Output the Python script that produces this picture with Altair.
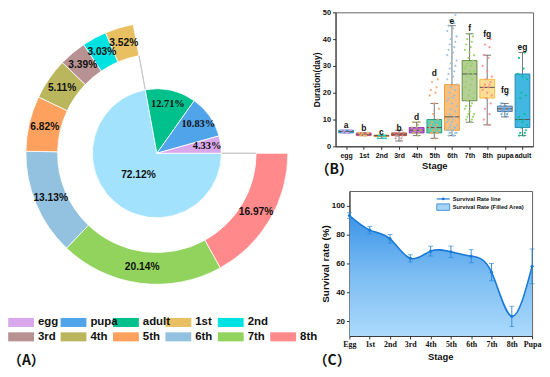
import math
import altair as alt
import pandas as pd

# ---------------- Panel A data ----------------
inner_stages = ["larva", "adult", "pupa", "egg"]
inner_pct = [72.12, 12.71, 10.83, 4.33]
ring_stages = ["8th", "7th", "6th", "5th", "4th", "3rd", "2nd", "1st"]
ring_pct = [16.97, 20.14, 13.13, 6.82, 5.11, 3.39, 3.03, 3.52]
legend_labels = ["egg", "pupa", "adult", "1st", "2nd", "3rd", "4th", "5th", "6th", "7th", "8th"]
legend_colors = ["#d9a8ec", "#50a4ea", "#00c08b", "#e8c062", "#00e1e1", "#b89292",
                 "#b9b65e", "#ffa15e", "#93c1e0", "#92d35e", "#ff898b"]
larva_color = "#a3e2fd"

# ---------------- Panel B data ----------------
box_stages = ["egg", "1st", "2nd", "3rd", "4th", "5th", "6th", "7th", "8th", "pupa", "adult"]
box_min = [5, 4, 3, 2, 4, 3, 4, 9, 8, 11, 4]
box_q1 = [5, 4, 3.7, 4, 5, 5, 6, 17, 18, 13, 7]
box_med = [5.5, 4.5, 4, 4.5, 6, 7, 11, 27, 22, 14, 10]
box_q3 = [6, 5, 4.2, 5, 7, 10, 23, 32, 25, 15, 27]
box_max = [6, 5, 4, 6, 9, 16, 45, 42, 34, 16, 35]
sig_letters = ["a", "b", "c", "b", "d", "d", "e", "f", "fg", "fg", "eg"]
sig_y = [7.9, 6.7, 5.2, 6.7, 11, 27.5, 46.7, 44, 42, 21, 37]
box_fill_colors = ["#45b9e0", "#f28ab5", "#f8a640", "#f27b5c", "#c55fe0", "#5fcfb0",
                   "#f9bf7f", "#b6cf97", "#fddf93", "#9fb7d2", "#41b7e2"]
box_dark_colors = ["#1e88b8", "#c2306e", "#e07a00", "#c42a14", "#7e1fa8", "#108a6a",
                   "#f08a10", "#4f7a2a", "#f4b21c", "#3f6488", "#1a7aa8"]

pts_egg = [5, 5, 5, 5.5, 6, 6, 6, 5, 6]
pts_1st = [4, 4, 4, 4.5, 5, 5, 5, 4, 5]
pts_2nd = [3, 3, 4, 4, 4, 4, 3]
pts_3rd = [2, 3, 3, 4, 4, 4, 5, 5, 5, 6, 4]
pts_4th = [4, 5, 5, 5, 6, 6, 6, 7, 7, 8, 9, 9, 6]
pts_5th = [3, 5, 5, 5, 5, 6, 6, 6, 7, 7, 8, 8, 9, 10, 12, 14, 16, 19, 20, 21, 22, 24, 25]
pts_6th = [4, 4, 4, 5, 5, 5, 5, 6, 6, 6, 6, 7, 7, 7, 8, 8, 9, 9, 10, 10, 11, 12, 13, 14,
           15, 16, 17, 18, 18, 19, 20, 21, 22, 23, 24, 25, 26, 27, 28, 29, 30, 31, 32, 33,
           34, 35, 36, 37, 38, 39, 40, 41, 42, 43, 44, 45, 46, 47, 49]
pts_7th = [9, 10, 10, 11, 11, 12, 12, 13, 14, 15, 15, 16, 17, 18, 19, 20, 21, 22, 23, 24,
           25, 26, 27, 27, 28, 28, 29, 30, 30, 31, 31, 32, 33, 34, 35, 36, 37, 38, 39, 40, 41, 42]
pts_8th = [8, 10, 12, 14, 16, 18, 19, 20, 21, 22, 22, 23, 23, 24, 25, 26, 28, 30, 33, 34, 37, 38, 40]
pts_pupa = [11, 12, 12, 13, 13, 14, 14, 14, 15, 15, 16, 19]
pts_adult = [4, 4, 5, 5, 6, 7, 8, 9, 10, 10, 11, 12, 18, 19, 20, 25, 26, 27, 29, 33, 35]
pts_all = [pts_egg, pts_1st, pts_2nd, pts_3rd, pts_4th, pts_5th, pts_6th, pts_7th,
           pts_8th, pts_pupa, pts_adult]

# ---------------- Panel C data ----------------
surv_stages = ["Egg", "1st", "2nd", "3rd", "4th", "5th", "6th", "7th", "8th", "Pupa"]
surv_rate = [93, 83, 77, 63.5, 68.5, 68, 65, 54, 23.5, 58]
surv_err = [2, 2.6, 3, 2.5, 3.4, 4, 4.5, 6, 7, 12]
C_YMIN, C_YMAX = 10, 110

FONT = "Liberation Sans"
CJK = "Noto Sans CJK SC"
one = pd.DataFrame({"k": [0]})

# ================= Panel A =================
W_A, H_A = 320, 360
CX, CY = 150, 142
theta_scale = alt.Scale(domain=[0, 100], range=[math.pi / 2, math.pi / 2 + 2 * math.pi])
color_scale = alt.Scale(domain=legend_labels + ["larva"], range=legend_colors + [larva_color])

inner_df = pd.DataFrame({"stage": inner_stages, "pct": inner_pct, "ord": list(range(len(inner_stages)))})
ring_df = pd.DataFrame({"stage": ring_stages, "pct": ring_pct, "ord": list(range(len(ring_stages)))})
lab = "format(datum.pct, '.2f') + '%'"


def arc_enc(df):
    return alt.Chart(df).transform_calculate(lab=lab).encode(
        theta=alt.Theta("pct:Q", stack=True, scale=theta_scale),
        order=alt.Order("ord:Q"),
        x=alt.value(CX), y=alt.value(CY),
    )


inner_arc = arc_enc(inner_df).mark_arc(outerRadius=65, stroke="white", strokeWidth=0.8).encode(
    color=alt.Color("stage:N", scale=color_scale, legend=None))
ring_arc = arc_enc(ring_df).mark_arc(innerRadius=100, outerRadius=132, stroke="white", strokeWidth=0.8).encode(
    color=alt.Color("stage:N", scale=color_scale, legend=None))
ring_txt = arc_enc(ring_df).mark_text(radius=116, fontSize=10.3, fontWeight="bold", font=FONT,
                                      color="#111").encode(detail="stage:N", text="lab:N")
inner_small = arc_enc(inner_df).transform_calculate(t2="datum.pct < 50 ? datum.lab : ''").mark_text(
    radius=51, fontSize=10.5, fontWeight="bold", font="Liberation Serif", color="#111").encode(
    detail="stage:N", text="t2:N")
inner_big = arc_enc(inner_df).transform_calculate(t2="datum.pct >= 50 ? datum.lab : ''").mark_text(
    radius=29, fontSize=10.3, fontWeight="bold", font=FONT, color="#111").encode(
    detail="stage:N", text="t2:N")

conn_df = pd.DataFrame({"t": [0, inner_pct[0]]})
conn = alt.Chart(conn_df).mark_arc(innerRadius=65, outerRadius=100, stroke="#c8c8c8",
                                   strokeWidth=1, fillOpacity=0).encode(
    theta=alt.Theta("t:Q", scale=theta_scale), theta2=alt.Theta2("t"),
    x=alt.value(CX), y=alt.value(CY))

leg_df = pd.DataFrame({
    "label": legend_labels,
    "row": [0 if i < 5 else 1 for i in range(len(legend_labels))],
    "col": [i if i < 5 else i - 5 for i in range(len(legend_labels))],
})
lx = alt.X("col:Q", scale=alt.Scale(domain=[-0.25, 5.81], nice=False, zero=False), axis=None)
ly = alt.Y("row:Q", scale=alt.Scale(domain=[-21.55, 3.28], nice=False, zero=False, reverse=True), axis=None)
leg_sw = alt.Chart(leg_df).mark_point(shape="M-1,-0.35H1V0.35H-1Z", size=676, filled=True,
                                      opacity=1, strokeWidth=0).encode(
    x=lx, y=ly, color=alt.Color("label:N", scale=color_scale, legend=None))
leg_tx = alt.Chart(leg_df).mark_text(align="left", baseline="middle", dx=17, fontSize=11.5,
                                     fontWeight="bold", font=FONT, color="#111").encode(
    x=lx, y=ly, text="label:N")
a_lab = alt.Chart(one).mark_text(align="left", baseline="middle", fontSize=14, fontWeight="bold",
                                 font=CJK, color="#111").encode(
    x=alt.value(0), y=alt.value(351), text=alt.value("（A）"))

A = alt.layer(conn, inner_arc, ring_arc, ring_txt, inner_small, inner_big, leg_sw, leg_tx, a_lab).properties(
    width=W_A, height=H_A)

# ================= Panel B =================
lab_expr = "[" + ",".join("'%s'" % s for s in box_stages) + "][datum.value]"
fill_scale = alt.Scale(domain=box_stages, range=box_fill_colors)
dark_scale = alt.Scale(domain=box_stages, range=box_dark_colors)


def xB(field):
    return alt.X(field, type="quantitative",
                 scale=alt.Scale(domain=[-0.6, len(box_stages) - 0.4], nice=False, zero=False),
                 axis=alt.Axis(values=list(range(len(box_stages))), labelExpr=lab_expr, title="Stage",
                               labelFontSize=7, titleFontSize=9.5, tickSize=3, labelPadding=2,
                               titleY=19.5, titleBaseline="middle", labelAngle=0, labelFlush=False))


def yB(field):
    return alt.Y(field, type="quantitative", scale=alt.Scale(domain=[0, 50], nice=False),
                 axis=alt.Axis(values=[0, 10, 20, 30, 40, 50], title="Duration(day)", labelFontSize=7.5,
                               titleFontSize=8.5, tickSize=3, labelPadding=2,
                               titleX=-19, titleBaseline="middle"))


box_df = pd.DataFrame({"stage": box_stages, "idx": list(range(len(box_stages))), "lo": box_min,
                       "q1": box_q1, "med": box_med, "q3": box_q3, "hi": box_max,
                       "letter": sig_letters, "ly": sig_y})
bb = alt.Chart(box_df).transform_calculate(
    xl="datum.idx - 0.42", xr="datum.idx + 0.42", cl="datum.idx - 0.22", cr="datum.idx + 0.22")
whisk = bb.mark_rule(color="#555", strokeWidth=0.8).encode(x=xB("idx"), y=yB("lo"), y2="hi")
cap_lo = bb.mark_rule(color="#555", strokeWidth=0.8).encode(x=xB("cl"), x2="cr", y=yB("lo"))
cap_hi = bb.mark_rule(color="#555", strokeWidth=0.8).encode(x=xB("cl"), x2="cr", y=yB("hi"))
boxes = bb.mark_rect(strokeWidth=0.8).encode(
    x=xB("xl"), x2="xr", y=yB("q1"), y2="q3",
    fill=alt.Fill("stage:N", scale=fill_scale, legend=None),
    stroke=alt.Stroke("stage:N", scale=dark_scale, legend=None))
med = bb.mark_rule(color="#555", strokeWidth=1).encode(x=xB("xl"), x2="xr", y=yB("med"))

pts_rows = []
for i, (s, vals) in enumerate(zip(box_stages, pts_all)):
    for v in vals:
        pts_rows.append({"stage": s, "idx": i, "val": v})
pts_df = pd.DataFrame(pts_rows)
pts = alt.Chart(pts_df).transform_window(rn="row_number()", groupby=["stage"]).transform_calculate(
    jx="datum.idx + ((datum.rn * 5) % 9 - 4) * 0.065").mark_circle(size=5, opacity=0.9).encode(
    x=xB("jx"), y=yB("val"), color=alt.Color("stage:N", scale=dark_scale, legend=None))
letters = bb.mark_text(fontSize=8.5, fontWeight="bold", font=FONT, color="#111",
                       baseline="middle").encode(x=xB("idx"), y=yB("ly"), text="letter:N")
b_lab = alt.Chart(one).mark_text(align="left", baseline="middle", fontSize=14, fontWeight="bold",
                                 font=CJK, color="#111").encode(
    x=alt.value(-20), y=alt.value(159), text=alt.value("（B）"))

B = alt.layer(whisk, cap_lo, cap_hi, boxes, med, pts, letters, b_lab).properties(
    width=199, height=135, view=alt.ViewBackground(stroke="#666", strokeWidth=1))

# ================= Panel C =================
c_df = pd.DataFrame({"stage": surv_stages, "rate": surv_rate, "err": surv_err})
cb = alt.Chart(c_df).transform_calculate(lo="datum.rate - datum.err", hi="datum.rate + datum.err")
xC = alt.X("stage:N", sort=surv_stages, scale=alt.Scale(type="point", padding=0),
           axis=alt.Axis(labelAngle=0, labelFont="Liberation Serif", labelFontSize=8, title=None,
                         tickSize=3, labelPadding=1.5))


def yC(field):
    return alt.Y(field, type="quantitative", scale=alt.Scale(domain=[C_YMIN, C_YMAX], nice=False, zero=False),
                 axis=alt.Axis(values=[20, 40, 60, 80, 100], title="Survival rate (%)", labelFontSize=8,
                               titleFontSize=10, tickSize=3, labelPadding=2,
                               titleX=-24, titleBaseline="middle"))


grad = alt.LinearGradient(gradient="linear", x1=0, x2=0, y1=0, y2=1,
                          stops=[alt.GradientStop(color="#3d95e8", offset=0),
                                 alt.GradientStop(color="#7cbdf3", offset=0.5),
                                 alt.GradientStop(color="#acdafc", offset=1)])
LINE = "#1a7bd6"
area = cb.mark_area(interpolate="natural", color=grad, clip=True).encode(
    x=xC, y=yC("rate"), y2=alt.datum(C_YMIN))
line = cb.mark_line(interpolate="natural", color=LINE, strokeWidth=1.6, clip=True).encode(x=xC, y=yC("rate"))
errs = cb.mark_rule(color="#2a86d8", strokeWidth=0.9).encode(x=xC, y=yC("lo"), y2="hi")
ecap_lo = cb.mark_tick(size=5, thickness=0.9, color="#2a86d8").encode(x=xC, y=yC("lo"))
ecap_hi = cb.mark_tick(size=5, thickness=0.9, color="#2a86d8").encode(x=xC, y=yC("hi"))
cpts = cb.mark_point(filled=True, size=10, color=LINE, opacity=1).encode(x=xC, y=yC("rate"))

lg_line = alt.Chart(one).mark_rule(color=LINE, strokeWidth=1.2).encode(
    x=alt.value(88), x2=alt.value(101), y=alt.value(8))
lg_dot = alt.Chart(one).mark_point(filled=True, size=8, color=LINE, opacity=1).encode(
    x=alt.value(94.5), y=alt.value(8))
lg_rect = alt.Chart(one).mark_rect(fill="#a6d2f6", stroke="#2b80d0", strokeWidth=0.8).encode(
    x=alt.value(88), x2=alt.value(101), y=alt.value(13), y2=alt.value(19.5))
lg_t1 = alt.Chart(one).mark_text(align="left", baseline="middle", fontSize=5.8, fontWeight="bold",
                                 font=FONT, color="#111").encode(
    x=alt.value(104), y=alt.value(8), text=alt.value("Survival Rate line"))
lg_t2 = alt.Chart(one).mark_text(align="left", baseline="middle", fontSize=5.8, fontWeight="bold",
                                 font=FONT, color="#111").encode(
    x=alt.value(104), y=alt.value(16.3), text=alt.value("Survival Rate (Filled Area)"))
c_title = alt.Chart(one).mark_text(align="center", baseline="middle", fontSize=9.5, fontWeight="bold",
                                   font=FONT, color="#111").encode(
    x=alt.value(92), y=alt.value(167), text=alt.value("Stage"))
c_lab = alt.Chart(one).mark_text(align="left", baseline="middle", fontSize=14, fontWeight="bold",
                                 font=CJK, color="#111").encode(
    x=alt.value(-36), y=alt.value(171), text=alt.value("（C）"))

C = alt.layer(area, line, errs, ecap_lo, ecap_hi, cpts, lg_line, lg_dot, lg_rect, lg_t1, lg_t2,
              c_title, c_lab).properties(
    width=184, height=146, view=alt.ViewBackground(stroke="#666", strokeWidth=1))

spacer = alt.Chart(one).mark_point(opacity=0).encode(x=alt.value(0), y=alt.value(0)).properties(width=14, height=10)

right = alt.vconcat(B, alt.hconcat(spacer, C, spacing=0, bounds="flush"), spacing=45, bounds="flush")

chart = alt.hconcat(A, right, spacing=10, bounds="flush").properties(
    padding={"left": 0, "top": -2, "right": 0, "bottom": 0}
).configure_view(strokeWidth=0).configure_axis(
    labelFont=FONT, titleFont=FONT, labelFontWeight="bold", titleFontWeight="bold",
    labelColor="#111", titleColor="#111", domainColor="#333", tickColor="#333", grid=False)

chart.save("out.html", embed_options={"renderer": "svg", "actions": False})
